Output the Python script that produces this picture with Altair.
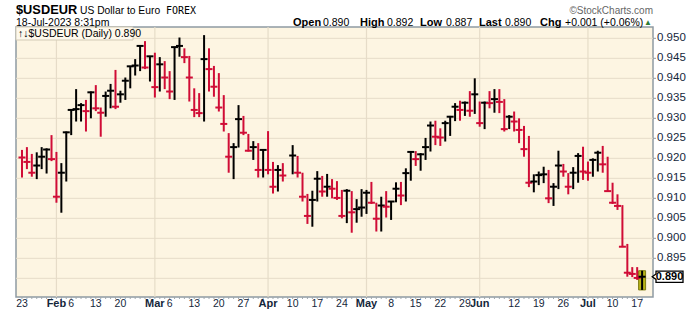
import altair as alt
import pandas as pd

# ---------------- data ----------------
first_day = "2023-01-23"
last_day = "2023-07-18"
no_bar_days = ["2023-04-07"]          # Good Friday: no bar printed
prior_close = 0.9215

highs = [0.9221, 0.9228, 0.9211, 0.9215, 0.9228, 0.9225, 0.9258, 0.9216, 0.9188, 0.9267,
         0.9323, 0.9373, 0.9338, 0.9346, 0.9367, 0.9383, 0.9327, 0.9367, 0.9386, 0.9421,
         0.9369, 0.9402, 0.9431, 0.9448, 0.9483, 0.9493, 0.9456, 0.9464, 0.9453, 0.9443,
         0.9418, 0.9479, 0.9502, 0.9475, 0.9456, 0.9375, 0.9363, 0.9508, 0.9475, 0.9431,
         0.9413, 0.9358, 0.9263, 0.9238, 0.9333, 0.9306, 0.9261, 0.9243, 0.9238, 0.9223,
         0.9268, 0.9191, 0.9183, 0.9188, 0.9233, 0.9206, 0.9164, 0.9111, 0.9119,
         0.9168, 0.9156, 0.9161, 0.9148, 0.9143, 0.9121, 0.9123, 0.9118, 0.9098, 0.9123,
         0.9121, 0.9141, 0.9089, 0.9104, 0.9118, 0.9093, 0.9140, 0.9141, 0.9175, 0.9217,
         0.9218, 0.9213, 0.9251, 0.9292, 0.9294, 0.9275, 0.9294, 0.9306, 0.9338, 0.9344,
         0.9342, 0.9368, 0.9400, 0.9342, 0.9342, 0.9368, 0.9373, 0.9373, 0.9348, 0.9308,
         0.9317, 0.9300, 0.9281, 0.9256, 0.9160, 0.9167, 0.9179, 0.9171, 0.9138, 0.9219,
         0.9186, 0.9163, 0.9178, 0.9213, 0.9229, 0.9192, 0.9200, 0.9219, 0.9231, 0.9204,
         0.9139, 0.9110, 0.9083, 0.8986, 0.8928, 0.8928, 0.8919]
lows = [0.9152, 0.9173, 0.9154, 0.9148, 0.9173, 0.9162, 0.9193, 0.9089, 0.9064, 0.9142,
        0.9258, 0.9292, 0.9292, 0.9267, 0.9300, 0.9318, 0.9254, 0.9304, 0.9325, 0.9323,
        0.9339, 0.9346, 0.9375, 0.9407, 0.9418, 0.9423, 0.9392, 0.9352, 0.9367, 0.9373,
        0.9348, 0.9346, 0.9454, 0.9438, 0.9342, 0.9303, 0.9303, 0.9292, 0.9367, 0.9354,
        0.9317, 0.9267, 0.9164, 0.9148, 0.9227, 0.9258, 0.9217, 0.9196, 0.9152, 0.9152,
        0.9160, 0.9112, 0.9117, 0.9142, 0.9160, 0.9152, 0.9092, 0.9036, 0.9029,
        0.9092, 0.9104, 0.9104, 0.9100, 0.9096, 0.9050, 0.9038, 0.9014, 0.9039, 0.9054,
        0.9061, 0.9086, 0.9017, 0.9017, 0.9052, 0.9046, 0.9090, 0.9083, 0.9092, 0.9144,
        0.9181, 0.9169, 0.9196, 0.9217, 0.9233, 0.9231, 0.9242, 0.9256, 0.9293, 0.9294,
        0.9306, 0.9304, 0.9311, 0.9279, 0.9273, 0.9325, 0.9314, 0.9313, 0.9267, 0.9273,
        0.9267, 0.9238, 0.9204, 0.9128, 0.9115, 0.9133, 0.9138, 0.9088, 0.9081, 0.9123,
        0.9154, 0.9110, 0.9123, 0.9139, 0.9146, 0.9144, 0.9154, 0.9167, 0.9164, 0.9117,
        0.9086, 0.9071, 0.8978, 0.8904, 0.8903, 0.8896, 0.8871]
closes = [0.9202, 0.9191, 0.9164, 0.9182, 0.9204, 0.9222, 0.9198, 0.9104, 0.9164, 0.9265,
          0.9321, 0.9323, 0.9333, 0.9318, 0.9365, 0.9325, 0.9314, 0.9356, 0.9369, 0.9329,
          0.9360, 0.9394, 0.9430, 0.9432, 0.9481, 0.9427, 0.9455, 0.9378, 0.9435, 0.9402,
          0.9367, 0.9478, 0.9481, 0.9453, 0.9402, 0.9321, 0.9313, 0.9448, 0.9423, 0.9379,
          0.9327, 0.9286, 0.9204, 0.9228, 0.9298, 0.9264, 0.9219, 0.9228, 0.9171, 0.9221,
          0.9171, 0.9129, 0.9171, 0.9157, 0.9207, 0.9164, 0.9104, 0.9056, 0.9096,
          0.9149, 0.9117, 0.9129, 0.9124, 0.9101, 0.9056, 0.9119, 0.9065, 0.9073, 0.9077,
          0.9114, 0.9089, 0.9049, 0.9082, 0.9079, 0.9092, 0.9124, 0.9107, 0.9163, 0.9216,
          0.9198, 0.9210, 0.9228, 0.9282, 0.9254, 0.9252, 0.9288, 0.9304, 0.9329, 0.9321,
          0.9339, 0.9319, 0.9360, 0.9288, 0.9339, 0.9338, 0.9348, 0.9341, 0.9273, 0.9304,
          0.9292, 0.9271, 0.9223, 0.9139, 0.9142, 0.9158, 0.9160, 0.9100, 0.9129, 0.9182,
          0.9167, 0.9129, 0.9164, 0.9206, 0.9167, 0.9164, 0.9196, 0.9214, 0.9185, 0.9118,
          0.9089, 0.9081, 0.8979, 0.8914, 0.8911, 0.8901, 0.8904]

month_labels = ["Feb", "Mar", "Apr", "May", "Jun", "Jul"]
month_dates = ["2023-02-01", "2023-03-01", "2023-04-03", "2023-05-01", "2023-06-01", "2023-07-03"]
day_labels = ["23", "6", "13", "20", "6", "13", "20", "27", "10", "17", "24",
              "8", "15", "22", "29", "12", "19", "26", "10", "17"]
day_dates = ["2023-01-23", "2023-02-06", "2023-02-13", "2023-02-20", "2023-03-06", "2023-03-13",
             "2023-03-20", "2023-03-27", "2023-04-10", "2023-04-17", "2023-04-24", "2023-05-08",
             "2023-05-15", "2023-05-22", "2023-05-29", "2023-06-12", "2023-06-19", "2023-06-26",
             "2023-07-10", "2023-07-17"]
grid_values = [0.890, 0.895, 0.900, 0.905, 0.910, 0.915, 0.920, 0.925, 0.930, 0.935, 0.940, 0.945, 0.950]
label_values = [0.895, 0.900, 0.905, 0.910, 0.915, 0.920, 0.925, 0.930, 0.935, 0.940, 0.945, 0.950]

# ---------------- build tables ----------------
all_days = pd.bdate_range(first_day, last_day)
pos = {d.strftime("%Y-%m-%d"): i for i, d in enumerate(all_days)}
bar_days = [d for d in pos if d not in no_bar_days]

df = pd.DataFrame({"date": bar_days, "high": highs, "low": lows, "close": closes})
df["i"] = df["date"].map(pos)
prev = [prior_close] + closes[:-1]
df["dir"] = ["down" if c < p else "up" for c, p in zip(closes, prev)]
last = df.tail(1)

months = pd.DataFrame({"label": month_labels, "i": [pos[d] for d in month_dates]})
days = pd.DataFrame({"label": day_labels, "i": [pos[d] for d in day_dates]})
ticks = pd.DataFrame({"i": list(range(len(all_days)))})
grid_df = pd.DataFrame({"v": grid_values})
ylab_df = pd.DataFrame({"v": label_values})

W, H = 637, 270
FONT = "Liberation Sans"
RED = "#d00c36"
GRID = "#e6dcc8"
INK = "#14263a"

xs = alt.Scale(domain=[-0.2, 127.2], nice=False, zero=False)
ys = alt.Scale(domain=[0.88533, 0.95283], nice=False, zero=False)
X = alt.X("i:Q", scale=xs, axis=None)


def Y(field):
    return alt.Y(field, scale=ys, axis=None)


month_grid = alt.Chart(months).mark_rule(color=GRID, strokeWidth=1.2).encode(
    x=X, y=alt.value(0), y2=alt.value(H))

xticks = alt.Chart(ticks).mark_rule(color="#a0a8ad", strokeWidth=1).encode(
    x=X, y=alt.value(H), y2=alt.value(H + 2))

ygrid = alt.Chart(grid_df).mark_rule(color=GRID, strokeWidth=1).encode(
    y=Y("v:Q"), x=alt.value(0), x2=alt.value(W))

yticks = alt.Chart(grid_df).mark_rule(color="#8f9aa3", strokeWidth=1).encode(
    y=Y("v:Q"), x=alt.value(W), x2=alt.value(W + 3))

ylabels = alt.Chart(ylab_df).mark_text(font=FONT, fontSize=11.5, color=INK, align="left",
                                       baseline="middle").encode(
    y=Y("v:Q"), x=alt.value(W + 4), text=alt.Text("v:Q", format=".3f"))

color = alt.Color("dir:N", scale=alt.Scale(domain=["up", "down"], range=["#000000", RED]), legend=None)

highlight = alt.Chart(last).mark_bar(width=7, color="#b8b418", stroke="#7d7a10", strokeWidth=1).encode(
    x=X, y=Y("high:Q"), y2="low:Q")

bars = alt.Chart(df).mark_rule(strokeWidth=2).encode(
    x=X, y=Y("high:Q"), y2="low:Q", color=color)

crosses = alt.Chart(df).mark_tick(thickness=2, size=7, orient="horizontal", opacity=1).encode(
    x=X, y=Y("close:Q"), color=color)

month_text = alt.Chart(months).mark_text(font=FONT, fontSize=11, fontWeight="bold",
                                         color=INK, baseline="alphabetic").encode(
    x=X, y=alt.value(H + 10), text="label:N")
day_text = alt.Chart(days).mark_text(font=FONT, fontSize=10.5, color=INK,
                                     baseline="alphabetic").encode(
    x=X, y=alt.value(H + 10), text="label:N")


def label(txt, x, y, size=11, weight="normal", color="#000000", align="left", font=FONT):
    return alt.Chart(pd.DataFrame({"t": [txt]})).mark_text(
        font=font, fontSize=size, fontWeight=weight, color=color, align=align,
        baseline="alphabetic").encode(text="t:N", x=alt.value(x), y=alt.value(y))


legend_box = alt.Chart(pd.DataFrame({"t": [0]})).mark_rect(
    fill="#fdf8ec", stroke="#d4cbb6", strokeWidth=1).encode(
    x=alt.value(0), x2=alt.value(117), y=alt.value(0), y2=alt.value(13))

price_box = alt.Chart(last).mark_point(
    shape="M-1,-0.42 L1,-0.42 L1,0.42 L-1,0.42 L-1,0.2 L-1.28,0 L-1,-0.2 Z",
    size=729, filled=True, fill="#ffffff", stroke="#000000", strokeWidth=1.3, opacity=1).encode(
    x=alt.value(653.5), y=Y("close:Q"))
price_text = alt.Chart(last).mark_text(font=FONT, fontSize=11, fontWeight="bold", color="#000000",
                                       baseline="middle").encode(
    x=alt.value(653.5), y=Y("close:Q"), text=alt.Text("close:Q", format=".3f"))

hdr = [
    label("$USDEUR", 0, -13, size=12.8, weight="bold"),
    label("US Dollar to Euro", 64, -13, size=10.3),
    label("FOREX", 150, -13, size=10, font="DejaVu Sans Mono"),
    label("18-Jul-2023 8:31pm", 0, -1, size=10.5),
    label("©StockCharts.com", 637, -13, size=10, color="#666666", align="right"),
    label("Open", 277, -1, size=11, weight="bold"),
    label("0.890", 307, -1, size=10.5),
    label("High", 344, -1, size=11, weight="bold"),
    label("0.892", 371, -1, size=10.5),
    label("Low", 404, -1, size=11, weight="bold"),
    label("0.887", 430, -1, size=10.5),
    label("Last", 463, -1, size=11, weight="bold"),
    label("0.890", 489, -1, size=10.5),
    label("Chg", 524, -1, size=11, weight="bold"),
    label("+0.001 (+0.06%)", 549, -1, size=10.5),
    label("▲", 636, -2, size=8, color="#2e7d32", align="right"),
    label("↑↓$USDEUR (Daily) 0.890", 2, 10, size=10.5),
]

chart = alt.layer(
    ygrid, month_grid, xticks, yticks, ylabels, highlight, bars, crosses, month_text, day_text,
    legend_box, *hdr, price_box, price_text
).properties(
    width=W, height=H,
    autosize=alt.AutoSizeParams(type="none"),
    padding={"left": 16, "top": 27, "right": 47, "bottom": 15},
    background="#ffffff",
).configure_view(
    fill="#fdf5e2", stroke="#8f9aa3", strokeWidth=1.5
)

chart.save("out.html", embed_options={"renderer": "svg", "actions": False})
